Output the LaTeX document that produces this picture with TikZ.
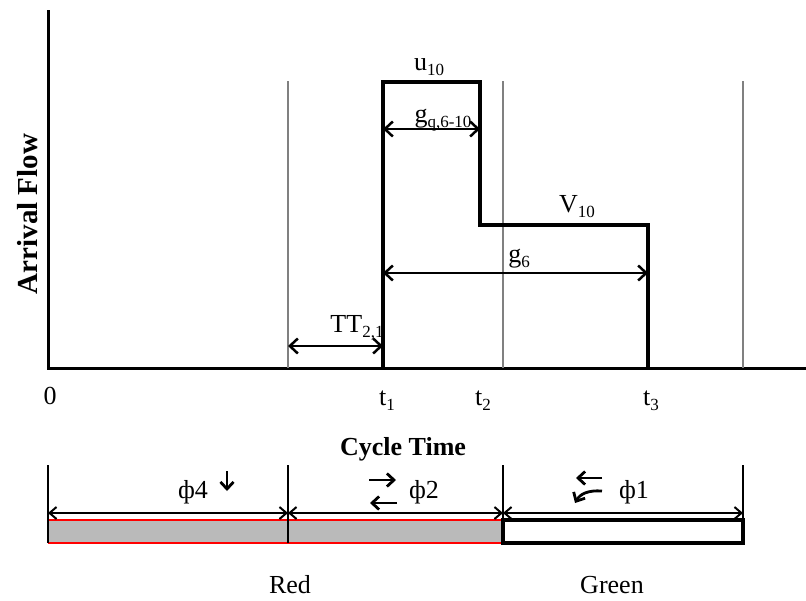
\documentclass[tikz,border=0pt]{standalone}
\usepackage{fontspec}
\setmainfont{Liberation Serif}
\usetikzlibrary{arrows.meta}
\newcommand{\lsub}[1]{\raisebox{-0.22em}{\fontsize{17}{17}\selectfont #1}}
\begin{document}
\begin{tikzpicture}[x=1pt,y=-1pt,
  lbl/.style={inner sep=0pt, anchor=base, font=\fontsize{26}{30}\selectfont},
  blbl/.style={lbl, font=\fontsize{26}{30}\selectfont\bfseries},
  axisline/.style={line width=3pt, black},
  gridline/.style={line width=2pt, black!50},
  sig/.style={line width=4pt, black, line join=miter},
  dimarrow/.style={line width=2.5pt, {Straight Barb[length=8pt,width=15pt]}-{Straight Barb[length=8pt,width=15pt]}},
  bardim/.style={line width=2pt, {Straight Barb[length=7pt,width=12pt]}-{Straight Barb[length=7pt,width=12pt]}},
  tick/.style={line width=2pt, black},
  turn/.style={line width=2.8pt, -{Straight Barb[length=7pt,width=13pt]}},
]
\useasboundingbox (0,0) rectangle (806,600);

% axes
\coordinate (O) at (48,368);
\coordinate (ytop) at (48,10);
\coordinate (xend) at (806,368);
\draw[axisline] (ytop) -- (O) -- (xend);

% grey lines
\coordinate (g1b) at (288,368); \coordinate (g1t) at (288,81);
\coordinate (g2b) at (503,368); \coordinate (g2t) at (503,81);
\coordinate (g3b) at (743,368); \coordinate (g3t) at (743,81);
\draw[gridline] (g1b) -- (g1t);
\draw[gridline] (g2b) -- (g2t);
\draw[gridline] (g3b) -- (g3t);

% signal
\coordinate (s0) at (383,368);
\coordinate (s1) at (383,82);
\coordinate (s2) at (480,82);
\coordinate (s3) at (480,225);
\coordinate (s4) at (648,225);
\coordinate (s5) at (648,368);
\draw[sig] (s0) -- (s1) -- (s2) -- (s3) -- (s4) -- (s5);

% dimension arrows
\coordinate (tta) at (288,346); \coordinate (ttb) at (383,346);
\draw[dimarrow] (tta) -- (ttb);
\coordinate (gqa) at (383,129); \coordinate (gqb) at (480,129);
\draw[dimarrow] (gqa) -- (gqb);
\coordinate (g6a) at (383,273); \coordinate (g6b) at (648,273);
\draw[dimarrow] (g6a) -- (g6b);

% labels
\node[lbl] (u10) at (429,70) {u\lsub{10}};
\node[lbl] (gq) at (443,122) {g\lsub{q,6-10}};
\node[lbl] (v10) at (577,212) {V\lsub{10}};
\node[lbl] (g6) at (519,262) {g\lsub{6}};
\node[lbl] (tt) at (357,332) {TT\lsub{2,1}};
\node[lbl] (l0) at (50,404) {0};
\node[lbl] (t1) at (387,405) {t\lsub{1}};
\node[lbl] (t2) at (483,405) {t\lsub{2}};
\node[lbl] (t3) at (651,405) {t\lsub{3}};
\node[blbl] (ct) at (403,455) {Cycle Time};
\node[lbl, rotate=90, font=\fontsize{29}{33}\selectfont\bfseries] (af) at (37,214) {Arrival Flow};

% bottom bar
\coordinate (b0t) at (48,520); \coordinate (b0b) at (48,543);
\coordinate (b1t) at (288,520); \coordinate (b1b) at (288,543);
\coordinate (b2t) at (503,520); \coordinate (b2b) at (503,543);
\coordinate (b3t) at (743,520); \coordinate (b3b) at (743,543);
\fill[black!27] (b0t) rectangle (b2b);
\draw[red, line width=1.8pt] (b0t) -- (b2t);
\draw[red, line width=1.8pt] (b0b) -- (b2b);
\draw[line width=3.5pt, black, line join=miter] (b2t) rectangle (b3b);

\coordinate (v0) at (48,465); \coordinate (v1) at (288,465);
\coordinate (v2) at (503,465); \coordinate (v3) at (743,465);
\draw[tick] (v0) -- (b0b);
\draw[tick] (v1) -- (b1b);
\draw[tick] (v2) -- (b2t);
\draw[tick] (v3) -- (b3t);

\coordinate (d0) at (48,513); \coordinate (d1) at (288,513);
\coordinate (d2) at (503,513); \coordinate (d3) at (743,513);
\draw[bardim] (d0) -- (d1);
\draw[bardim] (d1) -- (d2);
\draw[bardim] (d2) -- (d3);

\node[lbl] (p4) at (193,498) {ф4};
\node[lbl] (p2) at (424,498) {ф2};
\node[lbl] (p1) at (634,498) {ф1};

% movement arrows
\coordinate (a4s) at (227,471); \coordinate (a4e) at (227,491);
\draw[turn] (a4s) -- (a4e);
\coordinate (a2s) at (369,480); \coordinate (a2e) at (396,480);
\draw[turn] (a2s) -- (a2e);
\coordinate (a2l) at (397,503); \coordinate (a2m) at (370,503);
\draw[turn] (a2l) -- (a2m);
\coordinate (a1s) at (602,478); \coordinate (a1e) at (576,478);
\draw[turn] (a1s) -- (a1e);
\coordinate (c1s) at (602,491); \coordinate (c1e) at (575,503);
\draw[turn] (c1s) .. controls (588,490) and (580,494) .. (c1e);

\node[lbl] (red) at (290,593) {Red};
\node[lbl] (green) at (612,593) {Green};
\end{tikzpicture}
\end{document}
